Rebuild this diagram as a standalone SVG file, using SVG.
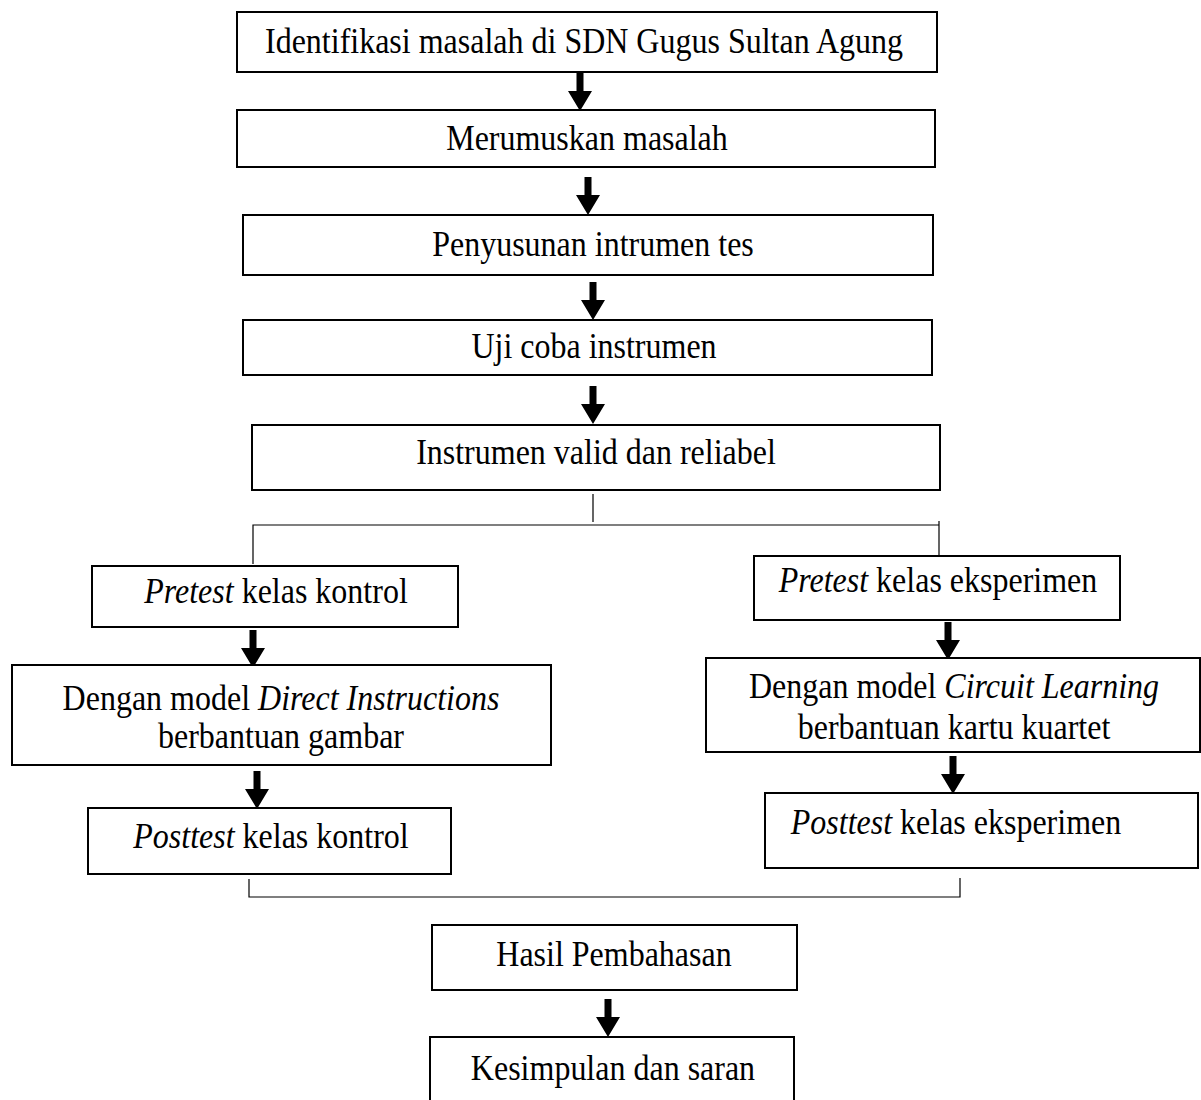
<svg xmlns="http://www.w3.org/2000/svg" width="1201" height="1100" viewBox="0 0 1201 1100">
<style>
.box{fill:#fff;stroke:#000;stroke-width:2}
.t{font-family:"Liberation Serif","Times New Roman",serif;font-size:32px;fill:#000;text-anchor:middle}
.i{font-style:italic}
.thin{fill:none;stroke:#000;stroke-width:1.2}
.arr{fill:#000;stroke:none}
</style>
<defs>
<path id="ar" d="M-3.5,0 H3.5 V18 H12 L0,38 L-12,18 H-3.5 Z"/>
</defs>
<rect width="1201" height="1100" fill="#fff"/>
<g id="connectors">
<use href="#ar" class="arr" x="580" y="73"/>
<use href="#ar" class="arr" x="588" y="177"/>
<use href="#ar" class="arr" x="593" y="282"/>
<use href="#ar" class="arr" x="593" y="386"/>
<path class="thin" d="M593,494 V522 M253,564 V525 H939 M939,521 V577"/>
<use href="#ar" class="arr" x="253" y="630"/>
<use href="#ar" class="arr" x="948" y="622"/>
<use href="#ar" class="arr" x="257" y="771"/>
<use href="#ar" class="arr" x="953" y="756"/>
<path class="thin" d="M249,879 V897 H960 V878"/>
<use href="#ar" class="arr" x="608" y="999"/>
</g>
<g id="n1"><rect class="box" x="237" y="12" width="700" height="60"/><text class="t" transform="translate(584,53) scale(1,1.1)">Identifikasi masalah di SDN Gugus Sultan Agung</text></g>
<g id="n2"><rect class="box" x="237" y="110" width="698" height="57"/><text class="t" transform="translate(587,150) scale(1,1.1)">Merumuskan masalah</text></g>
<g id="n3"><rect class="box" x="243" y="215" width="690" height="60"/><text class="t" transform="translate(593,256) scale(1,1.1)">Penyusunan intrumen tes</text></g>
<g id="n4"><rect class="box" x="243" y="320" width="689" height="55"/><text class="t" transform="translate(594,358) scale(1,1.1)">Uji coba instrumen</text></g>
<g id="n5"><rect class="box" x="252" y="425" width="688" height="65"/><text class="t" transform="translate(596,464) scale(1,1.1)">Instrumen valid dan reliabel</text></g>
<g id="n6"><rect class="box" x="92" y="566" width="366" height="61"/><text class="t" transform="translate(276,603) scale(1,1.1)"><tspan class="i">Pretest</tspan> kelas kontrol</text></g>
<g id="n7"><rect class="box" x="754" y="556" width="366" height="64"/><text class="t" transform="translate(938,592) scale(1,1.1)"><tspan class="i">Pretest</tspan> kelas eksperimen</text></g>
<g id="n8"><rect class="box" x="12" y="665" width="539" height="100"/><text class="t" transform="translate(281,710) scale(1,1.1)">Dengan model <tspan class="i">Direct Instructions</tspan></text><text class="t" transform="translate(281,748) scale(1,1.1)">berbantuan gambar</text></g>
<g id="n9"><rect class="box" x="706" y="658" width="494" height="94"/><text class="t" transform="translate(954,698) scale(1,1.1)">Dengan model <tspan class="i">Circuit Learning</tspan></text><text class="t" transform="translate(954,739) scale(1,1.1)">berbantuan kartu kuartet</text></g>
<g id="n10"><rect class="box" x="88" y="808" width="363" height="66"/><text class="t" transform="translate(271,848) scale(1,1.1)"><tspan class="i">Posttest</tspan> kelas kontrol</text></g>
<g id="n11"><rect class="box" x="765" y="793" width="433" height="75"/><text class="t" transform="translate(956,834) scale(1,1.1)"><tspan class="i">Posttest</tspan> kelas eksperimen</text></g>
<g id="n12"><rect class="box" x="432" y="925" width="365" height="65"/><text class="t" transform="translate(614,966) scale(1,1.1)">Hasil Pembahasan</text></g>
<g id="n13"><rect class="box" x="430" y="1037" width="364" height="70"/><text class="t" transform="translate(613,1080) scale(1,1.1)">Kesimpulan dan saran</text></g>
</svg>
